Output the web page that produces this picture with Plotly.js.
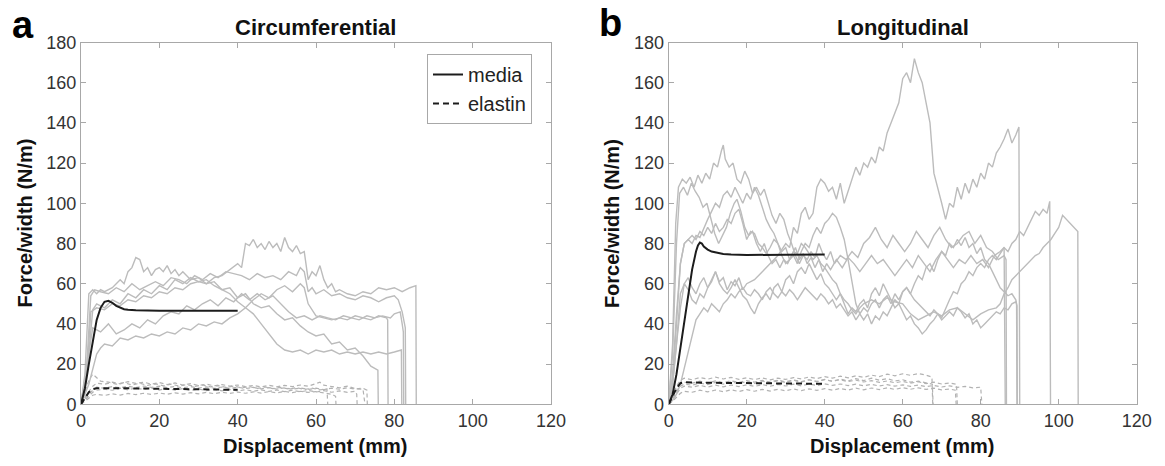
<!DOCTYPE html>
<html>
<head>
<meta charset="utf-8">
<script src="https://cdn.plot.ly/plotly-3.0.1.min.js"></script>
<style>html,body{margin:0;padding:0;background:#fff}#chart{width:1165px;height:466px}</style>
</head>
<body>
<div id="chart"></div>
<script>
// ---------- DATA ----------
const panelTitles = ["Circumferential", "Longitudinal"];
const panelLetters = ["a", "b"];
const xTitle = "Displacement (mm)";
const yTitle = "Force/width (N/m)";
const legendNames = ["media", "elastin"];

// Circumferential – individual media specimens [displacement, force/width]
const circMedia1 = [[0,0],[1,10],[2,30],[2.5,46],[4,48],[6,47],[8,50],[10,49],[12,52],[14,51],[16,54],[18,53],[20,56],[22,55],[24,58],[26,57],[28,60],[30,61],[32,60],[34,63],[36,64],[38,67],[40,70],[41,68],[42,80],[43,79],[44,82],[45,78],[46,80],[47,77],[48,81],[49,78],[50,80],[51,76],[52,83],[53,78],[54,76],[55,79],[56,75],[57,76],[58,62],[59,66],[60,64],[61,69],[62,62],[63,58],[64,60],[65,56],[66,57],[68,55],[70,54],[72,56],[74,55],[76,58],[78,57],[80,58],[82,56],[84,58],[85.5,59],[85.6,0]];
const circMedia2 = [[0,0],[1.5,20],[2.5,54],[3.5,57],[5,56],[7,55],[9,58],[11,56],[13,60],[15,57],[17,59],[19,61],[21,59],[23,63],[25,62],[27,60],[29,64],[31,62],[33,65],[35,63],[37,66],[39,65],[41,64],[43,62],[45,65],[47,63],[49,64],[51,62],[53,66],[55,64],[56,68],[57,66],[58,56],[59,58],[60,55],[62,57],[64,54],[66,55],[68,53],[70,52],[72,54],[74,53],[76,51],[78,53],[80,54],[81,52],[82,46],[82.8,38],[82.9,0]];
const circMedia3 = [[0,0],[1,15],[2,55],[3,57],[4,55],[5,57],[6,56],[8,58],[10,62],[11,60],[12,66],[13,68],[14,73],[15,72],[16,66],[17,68],[18,64],[19,67],[20,68],[21,66],[22,69],[23,65],[24,67],[25,64],[26,66],[28,62],[30,63],[32,60],[34,61],[36,57],[38,55],[40,51],[42,48],[44,45],[46,40],[48,35],[50,30],[52,27],[54,26],[56,27],[58,25],[60,27],[62,26],[64,27],[66,25],[68,26],[70,25],[72,26],[74,25],[76,26],[78,25],[80,26],[81.8,27],[81.9,0]];
const circMedia4 = [[0,0],[1.5,15],[3,47],[4,50],[6,48],[8,52],[10,50],[12,55],[14,53],[16,57],[18,55],[20,59],[22,57],[24,62],[26,60],[28,63],[30,61],[32,62],[34,59],[36,57],[38,58],[40,53],[42,55],[44,50],[46,48],[48,49],[50,45],[52,42],[54,43],[56,39],[58,36],[60,34],[62,35],[64,30],[66,31],[68,27],[70,28],[72,24],[74,19],[75,18],[75.8,17],[75.9,0]];
const circMedia5 = [[0,0],[2,10],[4,25],[5,28],[6,30],[8,29],[10,33],[12,32],[14,34],[16,33],[18,35],[20,34],[22,36],[24,35],[26,38],[28,37],[30,40],[32,39],[34,41],[36,40],[38,43],[40,45],[42,48],[44,52],[46,55],[48,53],[50,57],[52,59],[54,56],[56,60],[57,58],[58,50],[60,44],[62,43],[64,42],[66,43],[68,42],[70,44],[72,43],[74,42],[76,44],[78,43],[78.3,42],[78.4,0]];
const circMedia6 = [[0,0],[1.5,20],[3,38],[5,36],[7,40],[9,35],[11,37],[13,40],[15,38],[17,42],[19,40],[21,44],[23,46],[25,45],[27,49],[29,47],[31,50],[33,52],[35,49],[37,53],[39,51],[41,55],[43,52],[45,55],[47,52],[49,54],[51,50],[53,46],[55,43],[57,44],[59,42],[61,44],[63,43],[65,42],[67,44],[69,43],[71,42],[73,44],[75,43],[77,44],[79,43],[80,45],[81.5,46],[82,40],[82.3,36],[82.4,0]];
// Circumferential – individual elastin specimens
const circElastin1 = [[0,0],[1,6],[2,12],[3,15],[4,13],[5,11.5],[7,11],[9,10],[11,10.8],[13,9.6],[15,10.5],[17,9.4],[19,10.2],[21,9.2],[23,10],[25,9.1],[27,9.8],[29,8.9],[31,9.6],[33,8.7],[35,9.3],[37,8.4],[39,9.1],[41,8.2],[43,8.8],[45,7.9],[47,8.6],[49,7.8],[51,8.4],[53,7.6],[55,8.3],[57,7.4],[59,8],[61,7.2],[62.8,7.6],[63,0]];
const circElastin2 = [[0,0],[1.5,5],[3,9],[4,10.5],[6,10],[8,11],[10,10.2],[12,11.3],[14,10.4],[16,11],[18,10],[20,10.8],[22,9.8],[24,10.6],[26,9.6],[28,10.3],[30,9.4],[32,10],[34,9.2],[36,9.8],[38,9],[40,9.6],[42,8.8],[44,9.4],[46,8.6],[48,9.5],[50,8.7],[52,9.4],[54,8.8],[56,9.6],[58,9],[60,10.2],[61,11],[62,9.5],[64,9],[66,8.2],[68,9],[70,7.8],[72,7.5],[72.5,0]];
const circElastin3 = [[0,0],[1,2],[2,4],[3,6],[4,7],[6,7.5],[8,7],[10,8],[12,7.2],[14,8.1],[16,7.3],[18,8],[20,7.1],[22,7.9],[24,7],[26,7.8],[28,6.9],[30,7.6],[32,6.8],[34,7.5],[36,6.7],[38,7.4],[40,6.6],[42,7.3],[44,6.5],[46,7.2],[48,6.4],[50,7.1],[52,6.3],[54,7],[56,6.2],[58,6.9],[60,6.1],[62,6.8],[64,6],[66,6.7],[68,5.9],[70,6.5],[70.4,5],[70.5,0]];
const circElastin4 = [[0,0],[1,1.5],[2,3],[3,4.5],[4,5],[6,4.4],[8,5.2],[10,4.6],[12,5.4],[14,4.8],[16,5.5],[18,4.9],[20,5.6],[22,5],[24,5.7],[26,5.1],[28,5.8],[30,5.2],[32,5.9],[34,5.3],[36,6],[38,5.4],[40,6.1],[42,5.5],[44,6.2],[46,5.6],[48,6.3],[50,5.7],[52,6.4],[54,5.8],[56,6.5],[58,5.9],[60,6.3],[62,5.5],[64,5],[65,4],[65.1,0]];
const circElastin5 = [[0,0],[1.5,4],[3,7],[4,8.5],[6,8],[8,8.8],[10,8.2],[12,9],[14,8.3],[16,9.1],[18,8.4],[20,9],[22,8.3],[24,8.9],[26,8.2],[28,8.8],[30,8.1],[32,8.7],[34,8],[36,8.6],[38,7.9],[40,8.5],[42,7.8],[44,8.4],[46,7.7],[48,8.3],[50,7.6],[52,8.2],[54,7.5],[56,8.1],[58,7.4],[60,8],[62,7.3],[64,8],[66,7.5],[68,8.2],[70,7.6],[72,8],[73,7],[73.1,0]];
// Circumferential – mean curves
const circMediaMean = [[0,0],[1,8],[2,20],[3,32],[4,42],[5,48],[6,51],[7,51.5],[8,50.5],[9,49],[10,48],[11,47.3],[12,47],[14,46.8],[20,46.6],[30,46.6],[40,46.5]];
const circElastinMean = [[0,0],[1,3],[2,6],[3,7.5],[4,8],[10,8],[20,7.8],[30,7.5],[40,7.2]];

// Longitudinal – individual media specimens
const longMedia1 = [[0,0],[1,10],[2,30],[3,48],[4,60],[5,63],[6,58],[7,55],[8,60],[9,63],[10,58],[11,61],[12,66],[13,61],[14,63],[15,57],[16,61],[17,59],[18,63],[19,57],[20,60],[22,62],[24,66],[26,70],[28,74],[30,80],[31,78],[32,88],[33,85],[34,95],[35,98],[36,92],[37,95],[38,108],[39,112],[40,110],[41,106],[42,108],[43,102],[44,110],[45,100],[46,106],[47,112],[48,118],[49,114],[50,120],[51,118],[52,123],[53,120],[54,128],[55,126],[56,135],[57,140],[58,145],[59,150],[60,162],[61,165],[62,160],[63,172],[64,165],[65,160],[66,150],[67,140],[68,115],[69,108],[70,100],[71,92],[72,100],[73,98],[74,108],[75,102],[76,110],[77,105],[78,112],[79,108],[80,115],[81,112],[82,120],[83,118],[84,125],[85,128],[86,132],[87,137],[88,130],[89,134],[89.8,138],[90,0]];
const longMedia2 = [[0,0],[1,30],[1.8,90],[2.5,108],[3.5,112],[4.5,110],[5.5,113],[6.5,108],[7.5,114],[8.5,110],[9.5,115],[10.5,112],[11.5,120],[12.5,118],[13.5,126],[14,129],[14.5,122],[15.5,118],[16.5,120],[17.5,112],[18.5,110],[19.5,116],[20.5,112],[21.5,105],[22.5,108],[23.5,104],[24.5,107],[25.5,100],[26.5,94],[27.5,90],[28.5,95],[29.5,92],[30.5,85],[31.5,80],[32.5,74],[33.5,70],[34.5,74],[35.5,72],[36.5,76],[37.5,73],[38.5,80],[39.5,75],[40.5,72],[41.5,76],[42.5,70],[44,74],[45.5,72],[47,76],[48.5,73],[50,80],[51.5,83],[53,88],[54.5,82],[56,78],[57.5,84],[59,80],[60.5,76],[62,80],[63.5,86],[65,82],[66.5,78],[68,84],[69.5,88],[71,82],[72.5,78],[74,80],[75.5,84],[77,86],[78.5,80],[80,84],[81.5,78],[83,76],[84.5,72],[86,74],[86.5,72],[86.6,0]];
const longMedia3 = [[0,0],[1,25],[2,80],[2.8,105],[3.8,108],[4.8,104],[5.8,110],[6.8,106],[7.8,103],[8.8,98],[9.8,100],[10.8,92],[11.8,85],[12.8,80],[13.8,84],[14.8,88],[15.8,95],[16.8,100],[17.5,102],[18.5,96],[19.5,88],[20.5,84],[21.5,86],[22.5,80],[23.5,76],[24.5,80],[25.5,74],[26.5,70],[27.5,72],[28.5,68],[29.5,72],[30.5,70],[31.5,74],[32.5,78],[33.5,72],[34.5,75],[35.5,70],[36.5,73],[37.5,68],[38.5,72],[39.5,66],[40.5,70],[41.5,67],[43,72],[44.5,68],[46,73],[47.5,70],[49,66],[50.5,70],[52,74],[53.5,70],[55,72],[56.5,68],[58,64],[59.5,68],[61,72],[62.5,68],[64,74],[65.5,70],[67,66],[68.5,72],[70,76],[71.5,72],[73,68],[74.5,72],[76,70],[77.5,74],[79,70],[80.5,72],[82,68],[83.5,74],[85,76],[86,78],[86.3,0]];
const longMedia4 = [[0,0],[1,15],[2,45],[3,70],[4,80],[5,82],[6,80],[7,84],[8,83],[9,88],[10,92],[11,96],[12,100],[13,98],[14,104],[15,106],[16,103],[17,108],[18,104],[19,100],[20,105],[21,102],[22,108],[23,104],[24,98],[25,92],[26,88],[27,85],[28,80],[29,76],[30,78],[31,72],[32,74],[33,70],[34,76],[35,80],[36,78],[37,84],[38,88],[39,85],[40,90],[41,92],[42,95],[43,93],[44,88],[45,82],[46,72],[47,60],[48,50],[49,45],[50,42],[51,45],[52,40],[53,44],[54,42],[55,46],[56,44],[57,48],[58,52],[59,50],[60,56],[61,58],[62,55],[63,60],[64,64],[65,62],[66,68],[67,70],[68,66],[69,72],[70,76],[71,74],[72,80],[73,78],[74,82],[75,79],[76,83],[77,78],[78,80],[79,75],[80,78],[81,72],[82,70],[83,66],[84,62],[85,58],[86,56],[87,54],[88,55],[89,52],[89.2,50],[89.3,0]];
const longMedia5 = [[0,0],[1,10],[2,30],[3,55],[4,60],[5,57],[6,52],[7,50],[8,55],[9,53],[10,58],[11,62],[12,66],[13,60],[14,57],[15,55],[16,58],[17,62],[18,58],[19,54],[20,52],[21,48],[22,45],[23,50],[24,53],[25,55],[26,52],[27,58],[28,60],[29,56],[30,62],[31,64],[32,60],[33,66],[34,68],[35,65],[36,70],[37,66],[38,62],[39,65],[40,60],[41,58],[42,55],[43,52],[44,55],[45,50],[46,45],[47,48],[48,46],[49,50],[50,52],[51,48],[52,55],[53,58],[54,54],[55,60],[56,56],[57,52],[58,48],[59,50],[60,46],[61,42],[62,44],[63,40],[64,38],[65,35],[66,37],[67,40],[68,42],[69,45],[70,43],[71,48],[72,52],[73,56],[74,55],[75,60],[76,62],[77,66],[78,64],[79,68],[80,70],[81,68],[82,72],[83,74],[84,72],[85,75],[86,78],[87,76],[88,80],[89,82],[90,86],[91,84],[92,88],[93,92],[94,96],[95,94],[96,97],[97,95],[97.7,101],[97.9,0]];
const longMedia6 = [[0,0],[1,2],[2,5],[3,10],[4,18],[5,26],[6,35],[7,42],[8,45],[9,48],[10,46],[11,50],[12,48],[13,46],[14,50],[15,52],[16,55],[17,53],[18,56],[19,58],[20,55],[21,54],[22,57],[23,55],[24,52],[25,56],[26,58],[27,55],[28,53],[29,56],[30,54],[31,57],[32,55],[33,52],[34,55],[35,58],[36,56],[37,54],[38,52],[39,55],[40,53],[41,50],[42,52],[43,48],[44,50],[45,47],[46,44],[47,46],[48,42],[49,45],[50,48],[51,46],[52,50],[53,52],[54,48],[55,52],[56,54],[57,50],[58,55],[59,52],[60,56],[61,58],[62,55],[63,52],[64,50],[65,48],[66,46],[67,44],[68,47],[69,45],[70,42],[71,44],[72,46],[73,44],[74,48],[75,46],[76,43],[77,45],[78,40],[79,42],[80,38],[81,40],[82,42],[83,44],[84,46],[85,45],[86,48],[87,47],[88,50],[89,51],[89.3,49],[89.4,0]];
const longMedia7 = [[0,0],[1,12],[2,40],[3,70],[4,80],[5,82],[6,84],[7,82],[8,86],[9,84],[10,88],[11,85],[12,90],[13,86],[14,88],[15,92],[16,90],[17,95],[18,97],[19,90],[20,82],[21,86],[22,85],[23,80],[24,78],[25,75],[26,78],[27,82],[28,80],[29,74],[30,70],[31,72],[32,76],[33,75],[34,80],[35,78],[36,75],[37,72],[38,74],[39,70],[40,68],[41,65],[42,62],[43,60],[44,55],[45,52],[46,50],[47,47],[48,45],[49,48],[50,50],[52,52],[54,50],[56,53],[58,51],[60,50],[62,45],[64,42],[66,44],[68,46],[70,44],[72,47],[74,48],[76,45],[78,42],[80,45],[82,47],[84,48],[85,50],[86,55],[87,58],[88,62],[89,64],[90,66],[91,68],[92,70],[93,72],[94,74],[95,75],[96,78],[97,80],[98,82],[99,85],[100,88],[101,94],[102,92],[103,90],[104,88],[104.9,86],[105,0]];
// Longitudinal – individual elastin specimens
const longElastin1 = [[0,0],[1,4],[2,9],[3,12],[4,13],[6,12.2],[8,13.3],[10,12.5],[12,13.5],[14,12.6],[16,13.4],[18,12.4],[20,13.2],[22,12.3],[24,13.1],[26,12.2],[28,13],[30,12.4],[32,13.3],[34,12.6],[36,13.6],[38,12.8],[40,13.8],[42,13],[44,14],[46,13.2],[48,14.2],[50,13.4],[52,14.5],[54,13.8],[56,15],[58,14.2],[60,15.2],[62,14.4],[64,15.3],[66,14.5],[67.5,13.5],[67.7,0]];
const longElastin2 = [[0,0],[1,3],[2,7],[3,10],[4,11],[6,10.5],[8,11.5],[10,10.6],[12,11.6],[14,10.8],[16,11.7],[18,10.9],[20,11.8],[22,11],[24,11.9],[26,11.1],[28,12],[30,11.2],[32,12.1],[34,11.3],[36,12.2],[38,11.4],[40,12.3],[42,11.5],[44,12.2],[46,11.3],[48,12],[50,11.1],[52,11.8],[54,10.9],[56,11.6],[58,10.7],[60,11.4],[62,10.5],[64,11.2],[66,10.3],[68,11],[70,10.1],[72,10.6],[73.8,10],[74,0]];
const longElastin3 = [[0,0],[1,2],[2,5],[3,8],[4,9],[6,8.5],[8,9.4],[10,8.6],[12,9.5],[14,8.7],[16,9.6],[18,8.8],[20,9.7],[22,8.9],[24,9.8],[26,9],[28,9.9],[30,9.1],[32,10],[34,9.2],[36,10.1],[38,9.3],[40,10.2],[42,9.4],[44,10.1],[46,9.3],[48,10],[50,9.2],[52,9.9],[54,9.1],[56,9.8],[58,9],[60,9.7],[62,8.9],[64,9.6],[66,8.8],[68,9.4],[70,8.6],[72,9.2],[74,8.4],[76,8.9],[78,8.2],[80,8.5],[80.3,0]];
const longElastin4 = [[0,0],[1,1.5],[2,3.5],[3,5.5],[4,6.5],[6,6],[8,7],[10,6.2],[12,7.1],[14,6.3],[16,7.2],[18,6.4],[20,7.3],[22,6.5],[24,7.4],[26,6.6],[28,7.5],[30,6.7],[32,7.6],[34,6.8],[36,7.7],[38,6.9],[40,7.8],[42,7],[44,7.9],[46,7.1],[48,8],[50,7.2],[52,8.1],[54,7.3],[56,8.2],[58,7.4],[60,8.3],[62,7.5],[64,8.2],[66,7.4],[68,8],[70,7.2],[72,7.6],[73.5,7],[73.7,0]];
const longElastin5 = [[0,0],[1,3],[2,6],[3,9],[4,10],[6,9.5],[8,10.6],[10,9.8],[12,10.9],[14,10],[16,11.2],[18,10.2],[20,11.4],[22,10.4],[24,11.6],[26,10.6],[28,11.8],[30,10.8],[32,12],[34,11],[36,12.2],[38,11.2],[40,12.4],[42,11.4],[44,12.6],[46,11.6],[48,12.8],[50,11.8],[52,13],[54,12],[56,12.8],[58,11.6],[60,12.2],[62,11],[64,11.5],[66,10.5],[67.6,10],[67.8,0]];
// Longitudinal – mean curves
const longMediaMean = [[0,0],[1,5],[2,15],[3,28],[4,42],[5,55],[6,67],[7,76],[7.5,79],[8,80.5],[8.5,80],[9,78.5],[10,77],[11,76],[12,75.5],[14,74.8],[16,74.5],[20,74.3],[30,74.4],[40,74.5]];
const longElastinMean = [[0,0],[1,4],[2,8],[3,10.5],[4,11],[10,10.7],[20,10.5],[30,10.3],[40,10.2]];

const xTicks = [0, 20, 40, 60, 80, 100, 120];
const yTicks = [0, 20, 40, 60, 80, 100, 120, 140, 160, 180];

// ---------- STYLE ----------
const W = 1165, H = 466;
const fx = px => px / W;
const fy = py => 1 - py / H;
const FONT = "Liberation Sans, Arial, Helvetica, sans-serif";
const GRAY = "#bcbcbc";
const EGRAY = "#b2b2b2";
const BLACK = "#1c1c1c";
const AXIS = "#a8a8a8";
const TXT = "#333333";

const traces = [];
function addSpecimen(data, xa, ya, dashed) {
  traces.push({
    x: data.map(p => p[0]), y: data.map(p => p[1]), xaxis: xa, yaxis: ya,
    type: "scatter", mode: "lines", showlegend: false, hoverinfo: "skip",
    line: dashed ? {color: EGRAY, width: 1.2, dash: "4px,3px"} : {color: GRAY, width: 1.4}
  });
}
function addMean(data, xa, ya, dashed, name, showLeg) {
  traces.push({
    x: data.map(p => p[0]), y: data.map(p => p[1]), xaxis: xa, yaxis: ya,
    type: "scatter", mode: "lines", name: name, showlegend: showLeg,
    line: dashed ? {color: BLACK, width: 2, dash: "6px,4px"} : {color: BLACK, width: 2}
  });
}

[circElastin1, circElastin2, circElastin3, circElastin4, circElastin5].forEach(d => addSpecimen(d, "x", "y", true));
[circMedia1, circMedia2, circMedia3, circMedia4, circMedia5, circMedia6].forEach(d => addSpecimen(d, "x", "y", false));
addMean(circMediaMean, "x", "y", false, legendNames[0], true);
addMean(circElastinMean, "x", "y", true, legendNames[1], true);

[longElastin1, longElastin2, longElastin3, longElastin4, longElastin5].forEach(d => addSpecimen(d, "x2", "y2", true));
[longMedia1, longMedia2, longMedia3, longMedia4, longMedia5, longMedia6, longMedia7].forEach(d => addSpecimen(d, "x2", "y2", false));
addMean(longMediaMean, "x2", "y2", false, legendNames[0], false);
addMean(longElastinMean, "x2", "y2", true, legendNames[1], false);

const plotTop = 42.5, plotBot = 404.3;
const panelA = [81, 551], panelB = [668.7, 1136.7];

function xAxis(dom, anchor) {
  return {
    domain: [fx(dom[0]), fx(dom[1])], anchor: anchor, range: [0, 120],
    tickvals: xTicks, ticks: "inside", ticklen: 5, tickwidth: 1, tickcolor: AXIS,
    showline: true, linecolor: AXIS, linewidth: 1, mirror: "ticks",
    showgrid: false, zeroline: false, fixedrange: true,
    tickfont: {family: FONT, size: 18, color: TXT}
  };
}
function yAxis(anchor) {
  return {
    domain: [fy(plotBot), fy(plotTop)], anchor: anchor, range: [0, 180],
    tickvals: yTicks, ticks: "inside", ticklen: 5, tickwidth: 1, tickcolor: AXIS,
    showline: true, linecolor: AXIS, linewidth: 1, mirror: "ticks",
    showgrid: false, zeroline: false, fixedrange: true,
    tickfont: {family: FONT, size: 18, color: TXT}
  };
}

const annotations = [];
function ann(text, px, py, size, opts) {
  annotations.push(Object.assign({
    text: text, x: fx(px), y: fy(py), xref: "paper", yref: "paper",
    showarrow: false, xanchor: "center", yanchor: "middle",
    font: {family: FONT, size: size, color: "#111111", weight: "bold"}
  }, opts || {}));
}
[[panelA, 0], [panelB, 1]].forEach(([p, i]) => {
  const cx = (p[0] + p[1]) / 2;
  ann(panelTitles[i], cx, 28, 22);
  ann(xTitle, cx, 446, 20);
  ann(yTitle, p[0] - 56, (plotTop + plotBot) / 2, 20, {textangle: -90});
});
ann(panelLetters[0], 23, 25, 38, {font: {family: FONT, size: 38, color: "#000", weight: "bold"}});
ann(panelLetters[1], 610, 23, 38, {font: {family: FONT, size: 38, color: "#000", weight: "bold"}});

const layout = {
  width: W, height: H, margin: {l: 0, r: 0, t: 0, b: 0},
  paper_bgcolor: "#ffffff", plot_bgcolor: "#ffffff",
  xaxis: xAxis(panelA, "y"), yaxis: yAxis("x"),
  xaxis2: xAxis(panelB, "y2"), yaxis2: yAxis("x2"),
  showlegend: true,
  legend: {
    x: fx(427), y: fy(54), xanchor: "left", yanchor: "top",
    bgcolor: "#ffffff", bordercolor: AXIS, borderwidth: 1,
    font: {family: FONT, size: 20, color: "#222222"}, tracegroupgap: 0
  },
  annotations: annotations
};

Plotly.newPlot("chart", traces, layout, {staticPlot: true, displayModeBar: false});
</script>
</body>
</html>
